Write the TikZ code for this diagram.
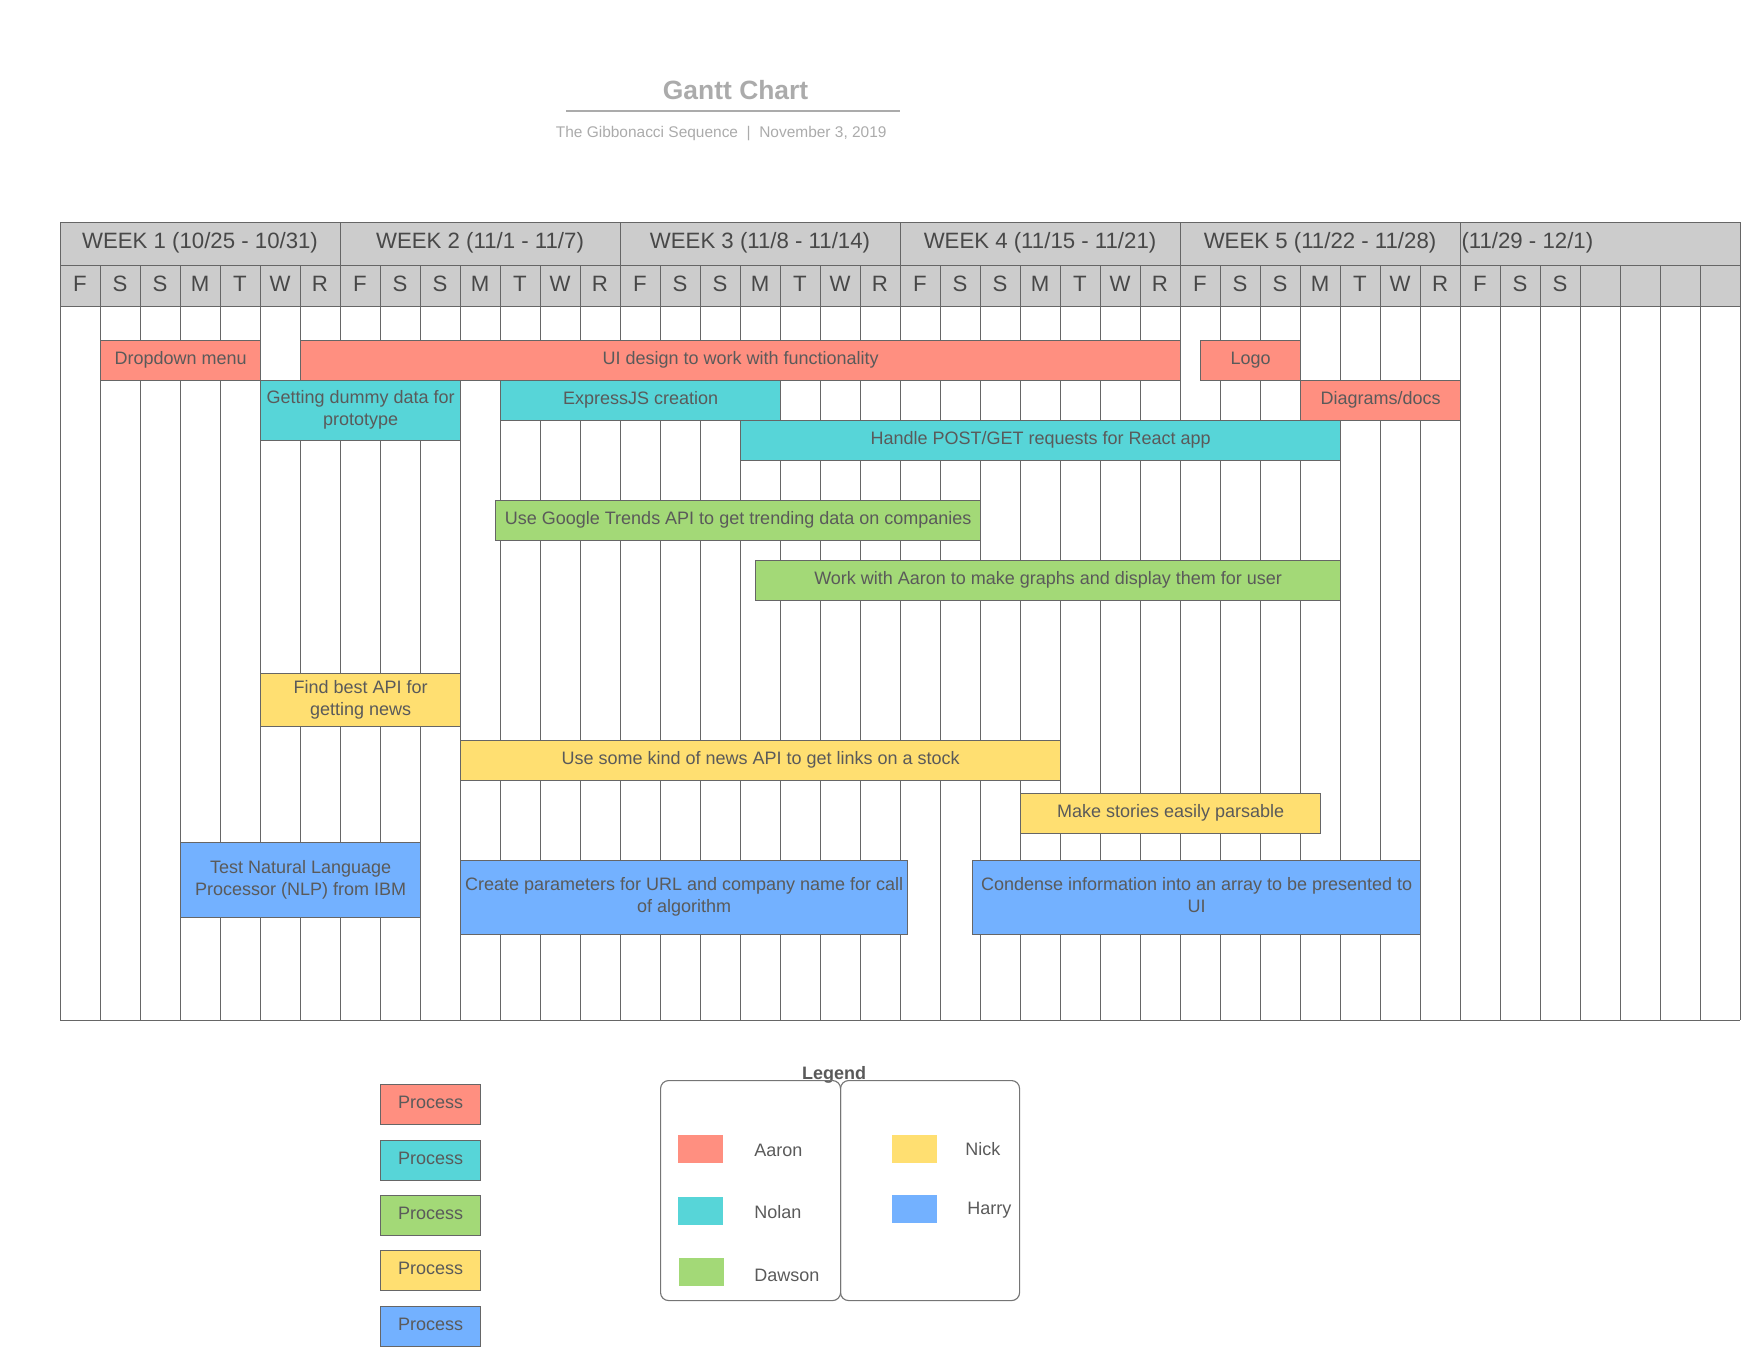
\documentclass[tikz,border=0pt]{standalone}
\usepackage{fontspec}
\setmainfont{Liberation Sans}
\usetikzlibrary{positioning}
\definecolor{aaron}{HTML}{FF8F80}
\definecolor{nolan}{HTML}{57D5D8}
\definecolor{dawson}{HTML}{A3D977}
\definecolor{nick}{HTML}{FFDF71}
\definecolor{harry}{HTML}{73B1FF}
\definecolor{ink}{HTML}{5A5A5A}
\definecolor{rule}{HTML}{666666}
\definecolor{head}{HTML}{CCCCCC}
\definecolor{faint}{HTML}{ABABAB}
\tikzset{
  grid/.style={draw=rule,line width=0.5pt},
  task/.style={draw=rule,line width=0.9pt,anchor=north west,inner sep=1pt,align=center,text=ink,font=\fontsize{12.8}{15.4}\selectfont},
  headtxt/.style={text=ink!80!black,font=\fontsize{15.8}{19}\selectfont,inner sep=0pt},
  legtxt/.style={text=ink,font=\fontsize{12.8}{15.4}\selectfont,anchor=west,inner sep=0pt},
  swatch/.style={anchor=north west,inner sep=0pt,minimum width=1.125cm,minimum height=0.7cm},
  legbox/.style={draw=rule!90,line width=0.8pt,rounded corners=0.2cm,anchor=north west,minimum width=4.5cm,minimum height=5.5cm,inner sep=0pt}
}

\begin{document}
\begin{tikzpicture}
\useasboundingbox (0,0) rectangle (44,-34);
\node[text=faint,font=\bfseries\fontsize{18.8}{22}\selectfont] (title) at (18.39,-2.26) {Gantt Chart};
\draw[faint,line width=1.4pt] (14.15,-2.77) -- (22.5,-2.77);
\node[text=faint,font=\fontsize{11}{13}\selectfont] (sub) at (18.03,-3.34) {The Gibbonacci Sequence \ | \ November 3, 2019};
\fill[head] (1.5,-5.55) rectangle (43.5,-7.65);
\foreach \i in {0,...,42}{
  \pgfmathsetmacro{\x}{1.5+\i}
  \draw[grid] (\x,-6.625) -- (\x,-25.5);
}
\foreach \i in {0,...,6}{
  \pgfmathsetmacro{\x}{1.5+7*\i}
  \draw[grid] (\x,-5.55) -- (\x,-6.625);
}
\foreach \y in {-5.55,-6.625,-7.65,-25.5}
  \draw[grid] (1.5,\y) -- (43.5,\y);
\foreach \w/\t in {1/{WEEK 1 (10/25 - 10/31)},2/{WEEK 2 (11/1 - 11/7)},3/{WEEK 3 (11/8 - 11/14)},4/{WEEK 4 (11/15 - 11/21)},5/{WEEK 5 (11/22 - 11/28)}}
  \node[headtxt] (wk\w) at (1.5+7*\w-3.5,-6.06) {\t};
\node[headtxt,anchor=west] (wk6) at (36.53,-6.06) {(11/29 - 12/1)};
\foreach \d [count=\i from 0] in {F,S,S,M,T,W,R,F,S,S,M,T,W,R,F,S,S,M,T,W,R,F,S,S,M,T,W,R,F,S,S,M,T,W,R,F,S,S}
  \node[headtxt] (d\i) at (2+\i,-7.1) {\d};
\foreach \n/\c/\xa/\ya/\xb/\yb/\t in {
 drop/aaron/2.5/8.5/6.5/9.5/{Dropdown menu},
 ui/aaron/7.5/8.5/29.5/9.5/{UI design to work with functionality},
 logo/aaron/30/8.5/32.5/9.5/{Logo},
 docs/aaron/32.5/9.5/36.5/10.5/{Diagrams/docs},
 dummy/nolan/6.5/9.5/11.5/11/{Getting dummy data for\\prototype},
 express/nolan/12.5/9.5/19.5/10.5/{ExpressJS creation},
 post/nolan/18.5/10.5/33.5/11.5/{Handle POST/GET requests for React app},
 trends/dawson/12.375/12.5/24.5/13.5/{Use Google Trends API to get trending data on companies},
 graphs/dawson/18.875/14/33.5/15/{Work with Aaron to make graphs and display them for user},
 findapi/nick/6.5/16.825/11.5/18.15/{Find best API for\\getting news},
 newsapi/nick/11.5/18.5/26.5/19.5/{Use some kind of news API to get links on a stock},
 parse/nick/25.5/19.825/33/20.825/{Make stories easily parsable},
 nlp/harry/4.5/21.05/10.5/22.925/{Test Natural Language\\Processor (NLP) from IBM},
 params/harry/11.5/21.5/22.675/23.35/{Create parameters for URL and company name for call\\of algorithm},
 condense/harry/24.3/21.5/35.5/23.35/{Condense information into an array to be presented to\\UI}}{
  \pgfmathsetmacro{\w}{\xb-\xa}
  \pgfmathsetmacro{\h}{\yb-\ya}
  \node[task,fill=\c,minimum width=\w cm,minimum height=\h cm,text depth=0.12cm] (\n) at (\xa,-\ya) {\t};
}
\foreach \c/\y [count=\i] in {aaron/27.1,nolan/28.5,dawson/29.875,nick/31.25,harry/32.65}
  \node[task,fill=\c,minimum width=2.5cm,minimum height=1cm,text depth=0.14cm] (proc\i) at (9.5,-\y) {Process};
\node[text=ink,font=\bfseries\fontsize{12.8}{15.4}\selectfont] (legend) at (20.85,-26.86) {Legend};
\node[legbox] (legL) at (16.5,-27) {};
\node[legbox,minimum width=4.475cm] (legR) at (21,-27) {};
\foreach \c/\x/\y/\lx/\ly/\t in {
 aaron/16.95/28.375/18.85/28.75/Aaron,
 nolan/16.95/29.925/18.85/30.29/Nolan,
 dawson/16.975/31.45/18.85/31.88/Dawson,
 nick/22.3/28.375/24.125/28.72/Nick,
 harry/22.3/29.875/24.175/30.26/Harry}{
  \node[swatch,fill=\c] (sw\t) at (\x,-\y) {};
  \node[legtxt] (lb\t) at (\lx,-\ly) {\t};
}
\end{tikzpicture}
\end{document}
